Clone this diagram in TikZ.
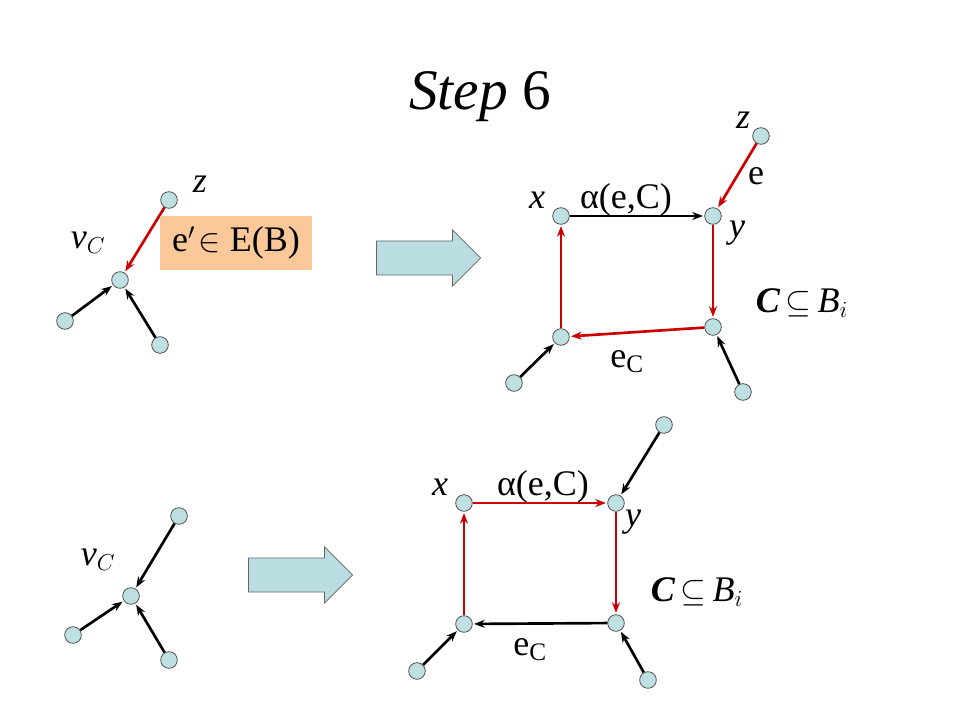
\documentclass[tikz,border=0pt]{standalone}
\usepackage{fontspec}
\setmainfont{Liberation Serif}
\usetikzlibrary{arrows.meta,shapes.arrows}
\definecolor{nodefill}{HTML}{BFE0E0}
\definecolor{redl}{HTML}{CC0000}
\definecolor{peach}{HTML}{FBC89A}
\definecolor{arrfill}{HTML}{B9DDE0}
\begin{document}
\begin{tikzpicture}[x=0.75pt,y=-0.75pt,
  vert/.style={circle,draw=black!70,fill=nodefill,minimum size=12.5pt,inner sep=0pt,line width=0.6pt},
  blk/.style={-{Stealth[length=8pt,width=6pt]},line width=2pt,shorten >=1pt},
  red/.style={blk,draw=redl,color=redl},
  lab/.style={font=\fontsize{27}{30}\selectfont,inner sep=0pt},
  bigarrow/.style={single arrow,draw=black!60,fill=arrfill,minimum height=78pt,minimum width=42pt,single arrow head extend=4pt,inner sep=6pt,line width=0.5pt}]
\useasboundingbox (0,0) rectangle (960,720);
\node[font=\fontsize{43}{48}\selectfont] (title) at (480,97) {\textit{Step} 6};
% top left
\node[vert] (tz) at (169,200) {};
\node[vert] (tv) at (120,280) {};
\node[vert] (tl) at (65,321) {};
\node[vert] (tb) at (160,345) {};
\draw[red] (tz) -- (tv);
\draw[blk] (tl) -- (tv);
\draw[blk] (tb) -- (tv);
\node[lab] (tzl) at (200,184) {\textit{z}};
\node[lab] (tvl) at (88,243) {\textit{v}$_C$};
\node[lab,fill=peach,minimum width=114pt,minimum height=40pt] (box) at (236,243) {e$'\!\in$ E(B)};
\node[bigarrow] (ar1) at (420,258) {};
% top right
\node[vert] (rz) at (761,136) {};
\node[vert] (ry) at (713,216) {};
\node[vert] (rx) at (561,216) {};
\node[vert] (rbl) at (561,337) {};
\node[vert] (rbr) at (713,327) {};
\node[vert] (rll) at (514,383) {};
\node[vert] (rlr) at (743,392) {};
\draw[red] (rz) -- (ry);
\draw[blk] (rx) -- (ry);
\draw[red] (ry) -- (rbr);
\draw[red] (rbr) -- (rbl);
\draw[red] (rbl) -- (rx);
\draw[blk] (rll) -- (rbl);
\draw[blk] (rlr) -- (rbr);
\node[lab] (rzl) at (743,120) {\textit{z}};
\node[lab] (rel) at (756,176) {e};
\node[lab] (rxl) at (537,200) {\textit{x}};
\node[lab] (ral) at (626,200) {α(e,C)};
\node[lab] (ryl) at (737,233) {\textit{y}};
\node[lab] (rcl) at (802,303) {{\bfseries\itshape C}\,$\subseteq$\,\textit{B}$_i$};
\node[lab] (recl) at (627,362) {e$_{\mathrm{C}}$};
% bottom left
\node[vert] (bt) at (179,516) {};
\node[vert] (bv) at (131,596) {};
\node[vert] (bl) at (73,635) {};
\node[vert] (bb) at (169,660) {};
\draw[blk] (bt) -- (bv);
\draw[blk] (bl) -- (bv);
\draw[blk] (bb) -- (bv);
\node[lab] (bvl) at (98,560) {\textit{v}$_C$};
\node[bigarrow] (ar2) at (292,575) {};
% bottom right
\node[vert] (qt) at (664,425) {};
\node[vert] (qy) at (616,503) {};
\node[vert] (qx) at (464,503) {};
\node[vert] (qbl) at (464,624) {};
\node[vert] (qbr) at (616,623) {};
\node[vert] (qll) at (417,671) {};
\node[vert] (qlr) at (648,680) {};
\draw[blk] (qt) -- (qy);
\draw[red] (qx) -- (qy);
\draw[red] (qy) -- (qbr);
\draw[blk] (qbr) -- (qbl);
\draw[red] (qbl) -- (qx);
\draw[blk] (qll) -- (qbl);
\draw[blk] (qlr) -- (qbr);
\node[lab] (qxl) at (440,487) {\textit{x}};
\node[lab] (qal) at (543,487) {α(e,C)};
\node[lab] (qyl) at (633,522) {\textit{y}};
\node[lab] (qcl) at (697,592) {{\bfseries\itshape C}\,$\subseteq$\,\textit{B}$_i$};
\node[lab] (qecl) at (530,650) {e$_{\mathrm{C}}$};
\end{tikzpicture}
\end{document}
